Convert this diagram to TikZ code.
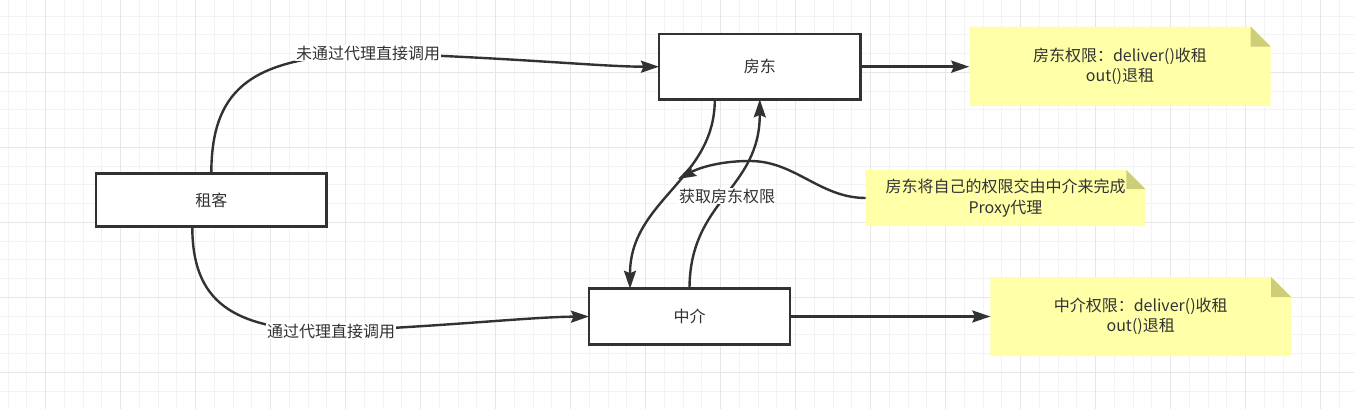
\documentclass[tikz,border=0pt]{standalone}
\usepackage{fontspec}
\setmainfont{Noto Sans CJK SC}
\usetikzlibrary{arrows.meta,calc}
\pgfdeclarelayer{gridlayer}
\pgfdeclarelayer{notelayer}
\pgfsetlayers{gridlayer,notelayer,main}
\definecolor{ink}{HTML}{323232}
\definecolor{notefill}{RGB}{255,255,168}
\definecolor{foldfill}{RGB}{205,205,122}
\definecolor{minorgrid}{RGB}{243,243,243}
\definecolor{majorgrid}{RGB}{230,230,230}
\newcommand\drawnotebg[2]{%
  \begin{pgfonlayer}{notelayer}
    \fill[notefill] (#1.north west) -- ($(#1.north east)+(-#2,0)$) -- ($(#1.north east)+(0,#2)$) -- (#1.south east) -- (#1.south west) -- cycle;
    \fill[foldfill] ($(#1.north east)+(-#2,0)$) -- ($(#1.north east)+(0,#2)$) -- ($(#1.north east)+(-#2,#2)$) -- cycle;
  \end{pgfonlayer}}
\begin{document}
\begin{tikzpicture}[x=1pt,y=-1pt,
  every node/.style={font=\fontsize{16}{20.5}\selectfont, text=ink},
  box/.style={draw=ink, line width=2.7pt, fill=white, inner sep=0pt, outer sep=0pt},
  note/.style={inner sep=0pt, outer sep=0pt, align=center},
  edge/.style={draw=ink, line width=2.4pt, -{Stealth[length=18pt,width=12pt,inset=2.5pt]}},
  lab/.style={fill=white, inner sep=1pt}
]
\useasboundingbox (0,0) rectangle (1354,409);
\begin{pgfonlayer}{gridlayer}
  \fill[white] (0,0) rectangle (1354,409);
  \foreach \i in {0,...,72} { \draw[minorgrid, line width=1pt] ({8.2+18.75*\i},0) -- ++(0,409); }
  \foreach \j in {0,...,21} { \draw[minorgrid, line width=1pt] (0,{16.1+18.75*\j}) -- ++(1354,0); }
  \foreach \i in {0,...,17} { \draw[majorgrid, line width=1pt] ({45.7+75*\i},0) -- ++(0,409); }
  \foreach \j in {0,...,4} { \draw[majorgrid, line width=1pt] (0,{72.3+75*\j}) -- ++(1354,0); }
\end{pgfonlayer}

% boxes
\node[box, minimum width=230.7pt, minimum height=53pt] (tenant) at (211.3,200.2) {租客};
\node[box, minimum width=201.7pt, minimum height=65.3pt] (landlord) at (759.8,66.7) {房东};
\node[box, minimum width=201pt, minimum height=55.5pt] (agent) at (689.5,316.5) {中介};

% notes
\node[note, minimum width=301.4pt, minimum height=79.3pt] (n1) at (1120,66.3) {房东权限：deliver()收租\\out()退租};
\drawnotebg{n1}{20}
\node[note, minimum width=279.6pt, minimum height=56pt] (n2) at (1005.5,198) {房东将自己的权限交由中介来完成\\Proxy代理};
\drawnotebg{n2}{19}
\node[note, minimum width=300.7pt, minimum height=79pt] (n3) at (1140.7,316.5) {中介权限：deliver()收租\\out()退租};
\drawnotebg{n3}{20}

% label positions
\coordinate (l1) at (368,53);
\coordinate (l2) at (331,331);
\coordinate (tip5) at (678,179);

% edges
\draw[edge] (tenant.north) .. controls (211.3,85) and (255,58) .. (l1) .. controls (520,58) and (600,66.7) .. (landlord.west);
\draw[edge] ([xshift=-19pt]tenant.south) .. controls (192.3,300) and (230,330) .. (l2) .. controls (450,326) and (530,317) .. (agent.west);
\draw[edge] ([xshift=-45pt]landlord.south) .. controls (715,180) and (630,200) .. ([xshift=-59.5pt]agent.north);
\draw[edge] (agent.north) .. controls (689.5,200) and (759.8,190) .. (landlord.south);
\draw[edge] (n2.west) .. controls (820,198) and (795,161) .. (750,161) .. controls (715,161) and (695,170) .. (tip5);
\draw[edge] (landlord.east) -- (landlord.east -| n1.west);
\draw[edge] (agent.east) -- (agent.east -| n3.west);

% edge labels
\node[lab] (t1) at (l1) {未通过代理直接调用};
\node[lab] (t2) at (l2) {通过代理直接调用};
\node[lab] (t3) at (727,196) {获取房东权限};
\end{tikzpicture}
\end{document}
